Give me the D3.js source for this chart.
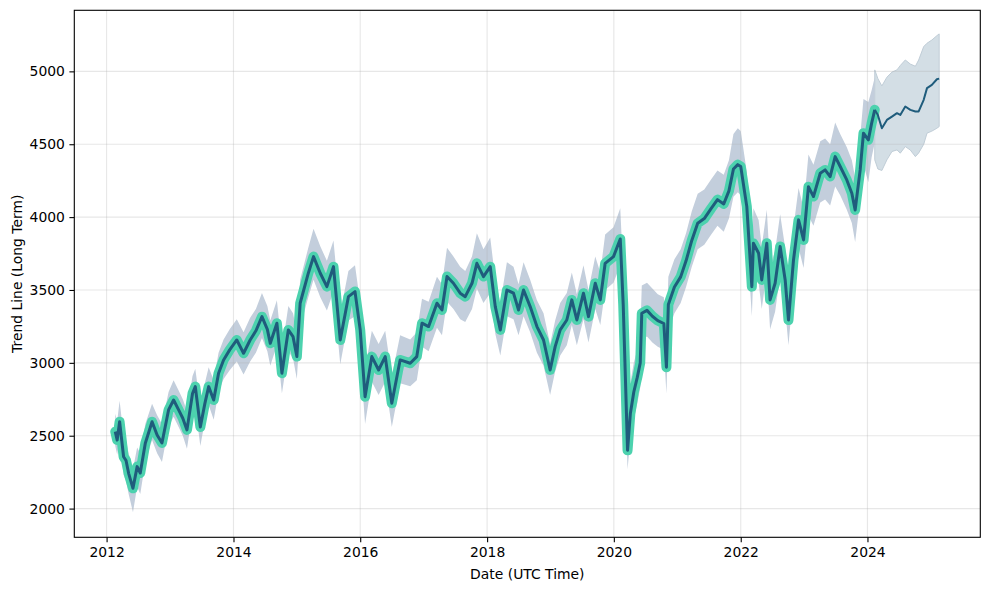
<!DOCTYPE html>
<html>
<head>
<meta charset="utf-8">
<script src="https://cdn.jsdelivr.net/npm/d3@7"></script>
<style>
  body { margin: 0; background: #fff; }
  svg { display: block; font-family: "DejaVu Sans", sans-serif; }
</style>
</head>
<body>
<svg id="chart" width="989" height="590"></svg>
<script>
// historical trend (teal highlighted part)
const histDates = [
  "2012-02-20","2012-03-02","2012-03-16","2012-04-08","2012-04-22","2012-05-07","2012-06-01","2012-06-25","2012-07-13","2012-08-11",
  "2012-09-19","2012-10-18","2012-11-15","2012-12-23","2013-01-21","2013-02-19","2013-03-15","2013-04-08","2013-05-10","2013-05-26",
  "2013-06-24","2013-07-20","2013-08-11","2013-09-09","2013-10-07","2013-11-05","2013-12-10","2014-01-20","2014-02-28","2014-04-07",
  "2014-05-10","2014-06-14","2014-07-15","2014-08-01","2014-09-08","2014-10-07","2014-11-13","2014-12-10","2015-01-01","2015-01-20",
  "2015-03-08","2015-04-07","2015-05-16","2015-06-23","2015-07-31","2015-09-08","2015-10-25","2015-12-02","2016-01-01","2016-01-29",
  "2016-03-08","2016-04-16","2016-05-24","2016-07-01","2016-08-18","2016-10-15","2016-11-22","2016-12-22","2017-01-29","2017-03-18",
  "2017-04-16","2017-05-15","2017-06-21","2017-07-30","2017-08-28","2017-10-06","2017-11-03","2017-12-11","2018-01-19","2018-02-17",
  "2018-03-18","2018-04-25","2018-06-02","2018-07-01","2018-07-30","2018-09-06","2018-10-15","2018-11-22","2018-12-30","2019-01-28",
  "2019-02-26","2019-04-05","2019-05-04","2019-06-02","2019-07-10","2019-08-08","2019-09-16","2019-10-15","2019-11-12","2019-12-30",
  "2020-02-07","2020-02-24","2020-03-20","2020-04-05","2020-04-25","2020-05-15","2020-06-01","2020-06-10","2020-07-10","2020-08-10",
  "2020-09-10","2020-10-15","2020-10-30","2020-11-10","2020-12-15","2021-01-20","2021-02-20","2021-03-25","2021-04-28","2021-06-05",
  "2021-07-15","2021-08-20","2021-09-25","2021-10-25","2021-11-20","2021-12-15","2022-01-01","2022-02-05","2022-03-06","2022-03-15",
  "2022-04-14","2022-05-02","2022-05-31","2022-06-19","2022-07-18","2022-08-16","2022-09-14","2022-10-03","2022-11-01","2022-11-30",
  "2022-12-29","2023-01-26","2023-02-24","2023-04-04","2023-05-02","2023-05-31","2023-06-29","2023-07-28","2023-09-04","2023-10-03",
  "2023-10-22","2023-11-20","2023-12-09","2024-01-06","2024-01-25","2024-02-12"
];
const histTrend = [
  2528,2470,2596,2356,2330,2242,2139,2288,2244,2448,
  2596,2505,2450,2677,2745,2677,2620,2540,2790,2837,
  2560,2720,2837,2745,2929,3020,3089,3157,3066,3157,
  3220,3317,3230,3134,3272,2929,3226,3180,3043,3409,
  3615,3729,3615,3523,3660,3157,3454,3489,3226,2768,
  3043,2951,3043,2723,3020,2997,3043,3272,3249,3409,
  3363,3592,3546,3478,3454,3546,3683,3592,3660,3386,
  3226,3500,3478,3363,3500,3386,3249,3157,2951,3111,
  3226,3294,3432,3294,3478,3317,3546,3432,3683,3729,
  3850,3400,2400,2650,2800,2900,3000,3340,3360,3320,
  3290,3270,2970,3400,3520,3590,3700,3840,3958,3990,
  4060,4120,4090,4180,4330,4360,4347,4072,3523,3821,
  3752,3569,3821,3432,3546,3798,3569,3294,3706,3981,
  3843,4209,4141,4301,4324,4278,4415,4347,4255,4164,
  4049,4324,4576,4530,4644,4736
];
const histUpper = [
  2650,2600,2740,2500,2470,2380,2270,2420,2380,2580,
  2720,2640,2580,2800,2880,2810,2750,2670,2910,2960,
  2700,2860,2970,2880,3070,3160,3230,3300,3210,3310,
  3370,3480,3390,3290,3430,3090,3390,3340,3210,3570,
  3790,3920,3800,3700,3840,3340,3630,3670,3410,2960,
  3220,3130,3220,2910,3190,3160,3210,3440,3420,3590,
  3540,3790,3730,3660,3630,3730,3890,3780,3860,3570,
  3410,3690,3660,3540,3690,3570,3430,3340,3130,3290,
  3410,3480,3620,3470,3670,3500,3730,3620,3880,3930,
  4060,3630,2620,2860,3000,3090,3190,3530,3550,3510,
  3470,3450,3160,3590,3710,3780,3890,4040,4160,4190,
  4260,4320,4290,4390,4570,4610,4590,4310,3760,4060,
  3980,3800,4050,3660,3770,4020,3790,3520,3930,4200,
  4060,4430,4360,4520,4540,4500,4650,4570,4480,4390,
  4270,4550,4810,4790,4870,4960
];
const histLower = [
  2430,2370,2480,2230,2190,2100,1975,2150,2100,2320,
  2470,2380,2320,2560,2630,2560,2500,2410,2660,2700,
  2430,2600,2710,2610,2800,2890,2950,3010,2920,3010,
  3070,3170,3080,2980,3120,2790,3080,3030,2890,3250,
  3450,3570,3450,3360,3490,2990,3290,3320,3050,2580,
  2870,2780,2870,2560,2860,2840,2880,3110,3080,3240,
  3190,3420,3370,3300,3280,3370,3510,3410,3480,3200,
  3050,3320,3300,3190,3320,3210,3070,2980,2780,2940,
  3050,3120,3260,3120,3300,3140,3370,3260,3500,3550,
  3670,3200,2270,2480,2620,2720,2830,3160,3180,3140,
  3110,3090,2790,3220,3340,3410,3520,3660,3780,3810,
  3880,3940,3900,3990,4140,4170,4150,3870,3320,3620,
  3550,3370,3620,3230,3350,3600,3370,3120,3510,3790,
  3650,4010,3940,4100,4120,4080,4210,4150,4050,3960,
  3830,4120,4360,4240,4410,4510
];

// one-year forecast
const fcDates = [
  "2024-02-12","2024-03-01","2024-03-24","2024-04-22","2024-05-21","2024-06-19","2024-07-08","2024-08-06",
  "2024-09-04","2024-10-03","2024-10-22","2024-11-20","2024-12-09","2025-01-06","2025-02-04","2025-02-17"
];
const fcTrend = [4736,4700,4610,4667,4690,4713,4701,4759,4736,4725,4725,4805,4885,4907,4946,4950];
const fcUpper = [5010,4950,4900,4960,4995,5010,5040,5078,5050,5035,5078,5170,5193,5215,5245,5257];
const fcLower = [4393,4330,4320,4393,4450,4461,4439,4484,4460,4415,4440,4500,4576,4590,4610,4621];

const xTickYears = [2012, 2014, 2016, 2018, 2020, 2022, 2024];
const yTickValues = [2000, 2500, 3000, 3500, 4000, 4500, 5000];

const parse = d3.utcParse("%Y-%m-%d");
const hist = histDates.map((d, i) => ({date: parse(d), v: histTrend[i], hi: histUpper[i], lo: histLower[i]}));
const fc = fcDates.map((d, i) => ({date: parse(d), v: fcTrend[i], hi: fcUpper[i], lo: fcLower[i]}));

const plot = {left: 74.3, right: 980.3, top: 10.3, bottom: 537.3};

const x = d3.scaleUtc()
    .domain([parse("2011-06-29"), parse("2025-10-12")])
    .range([plot.left, plot.right]);
const y = d3.scaleLinear()
    .domain([1803, 5419])
    .range([plot.bottom, plot.top]);

const svg = d3.select("#chart");

// uncertainty bands
const band = d3.area()
    .x(d => x(d.date))
    .y0(d => y(d.lo))
    .y1(d => y(d.hi));

svg.append("path")
    .datum(hist)
    .attr("fill", "#c3cedc")
    .attr("d", band);

svg.append("path")
    .datum(fc)
    .attr("fill", "#d3dee5")
    .attr("stroke", "#c0cdd7")
    .attr("stroke-width", 1)
    .attr("d", band);

// grid
const grid = svg.append("g")
    .attr("stroke", "#b0b0b0")
    .attr("stroke-opacity", 0.3)
    .attr("stroke-width", 1.1);

grid.selectAll("line.gx")
    .data(xTickYears)
    .join("line")
    .attr("class", "gx")
    .attr("x1", d => x(new Date(Date.UTC(d, 0, 1))))
    .attr("x2", d => x(new Date(Date.UTC(d, 0, 1))))
    .attr("y1", plot.top)
    .attr("y2", plot.bottom);

grid.selectAll("line.gy")
    .data(yTickValues)
    .join("line")
    .attr("class", "gy")
    .attr("x1", plot.left)
    .attr("x2", plot.right)
    .attr("y1", d => y(d))
    .attr("y2", d => y(d));

// lines
const line = d3.line()
    .x(d => x(d.date))
    .y(d => y(d.v));

svg.append("path")
    .datum(hist)
    .attr("fill", "none")
    .attr("stroke", "#4cd2ae")
    .attr("stroke-width", 10)
    .attr("stroke-linejoin", "round")
    .attr("stroke-linecap", "round")
    .attr("d", line);

svg.append("path")
    .datum(hist)
    .attr("fill", "none")
    .attr("stroke", "#1f5c7c")
    .attr("stroke-width", 3)
    .attr("stroke-linejoin", "round")
    .attr("d", line);

svg.append("path")
    .datum(fc)
    .attr("fill", "none")
    .attr("stroke", "#1f5c7c")
    .attr("stroke-width", 2)
    .attr("stroke-linejoin", "round")
    .attr("d", line);

// axes
const xAxis = d3.axisBottom(x)
    .tickValues(xTickYears.map(d => new Date(Date.UTC(d, 0, 1))))
    .tickFormat(d3.utcFormat("%Y"))
    .tickSize(4.9)
    .tickPadding(4.5);

const yAxis = d3.axisLeft(y)
    .tickValues(yTickValues)
    .tickFormat(d3.format("d"))
    .tickSize(4.9)
    .tickPadding(4.5);

svg.append("g")
    .attr("transform", `translate(0,${plot.bottom})`)
    .call(xAxis)
    .call(g => g.select(".domain").remove())
    .call(g => g.selectAll("line").attr("stroke", "#000").attr("stroke-width", 1.1))
    .call(g => g.selectAll("text").attr("font-size", 13.9).attr("fill", "#000").attr("font-family", "DejaVu Sans"));

svg.append("g")
    .attr("transform", `translate(${plot.left},0)`)
    .call(yAxis)
    .call(g => g.select(".domain").remove())
    .call(g => g.selectAll("line").attr("stroke", "#000").attr("stroke-width", 1.1))
    .call(g => g.selectAll("text").attr("font-size", 13.9).attr("fill", "#000").attr("font-family", "DejaVu Sans"));

// frame
svg.append("rect")
    .attr("x", plot.left)
    .attr("y", plot.top)
    .attr("width", plot.right - plot.left)
    .attr("height", plot.bottom - plot.top)
    .attr("fill", "none")
    .attr("stroke", "#000")
    .attr("stroke-width", 1.1);

// axis labels
svg.append("text")
    .attr("x", (plot.left + plot.right) / 2)
    .attr("y", 579)
    .attr("text-anchor", "middle")
    .attr("font-size", 13.9)
    .text("Date (UTC Time)");

svg.append("text")
    .attr("transform", `translate(21.5,${(plot.top + plot.bottom) / 2}) rotate(-90)`)
    .attr("text-anchor", "middle")
    .attr("font-size", 13.9)
    .text("Trend Line (Long Term)");
</script>
</body>
</html>
